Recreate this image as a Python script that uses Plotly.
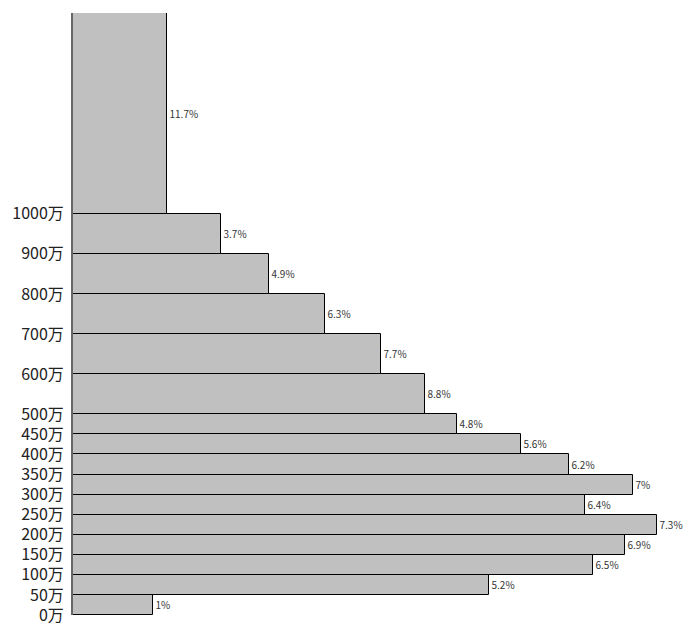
import plotly.graph_objects as go

bin_lo = [0, 50, 100, 150, 200, 250, 300, 350, 400, 450, 500, 600, 700, 800, 900, 1000]
bin_hi = [50, 100, 150, 200, 250, 300, 350, 400, 450, 500, 600, 700, 800, 900, 1000, 1500]
pct = [1, 5.2, 6.5, 6.9, 7.3, 6.4, 7, 6.2, 5.6, 4.8, 8.8, 7.7, 6.3, 4.9, 3.7, 11.7]
pct_text = ["1%", "5.2%", "6.5%", "6.9%", "7.3%", "6.4%", "7%", "6.2%", "5.6%", "4.8%",
            "8.8%", "7.7%", "6.3%", "4.9%", "3.7%", "11.7%"]
tick_vals = [0, 50, 100, 150, 200, 250, 300, 350, 400, 450, 500, 600, 700, 800, 900, 1000]
tick_text = ["0万", "50万", "100万", "150万", "200万", "250万", "300万", "350万", "400万",
             "450万", "500万", "600万", "700万", "800万", "900万", "1000万"]

widths = [h - l for l, h in zip(bin_lo, bin_hi)]
mids = [(l + h) / 2 for l, h in zip(bin_lo, bin_hi)]
density = [p / (w / 50) for p, w in zip(pct, widths)]

fig = go.Figure(go.Bar(
    orientation="h",
    y=mids,
    x=density,
    width=widths,
    text=pct_text,
    textposition="outside",
    cliponaxis=False,
    constraintext="none",
    textfont=dict(size=10, color="#333333", family="Noto Sans CJK JP"),
    marker=dict(color="#c0c0c0", line=dict(color="#000000", width=1)),
    hoverinfo="skip",
))

fig.update_layout(
    width=692, height=631,
    margin=dict(l=73, r=10, t=13, b=16, autoexpand=False),
    paper_bgcolor="white", plot_bgcolor="white",
    showlegend=False,
    font=dict(family="Noto Sans CJK JP", color="#222222"),
    bargap=0,
)
fig.update_xaxes(range=[0, 609 / 80], showgrid=False, zeroline=False, showticklabels=False,
                 showline=False, automargin=False)
fig.update_yaxes(range=[0, 1500], showgrid=False, zeroline=False, automargin=False,
                 tickvals=tick_vals, ticktext=tick_text, tickfont=dict(size=16, color="#222222"),
                 showline=True, linecolor="#666666", linewidth=2, ticks="", ticklabelstandoff=4)

fig.write_html("out.html")
